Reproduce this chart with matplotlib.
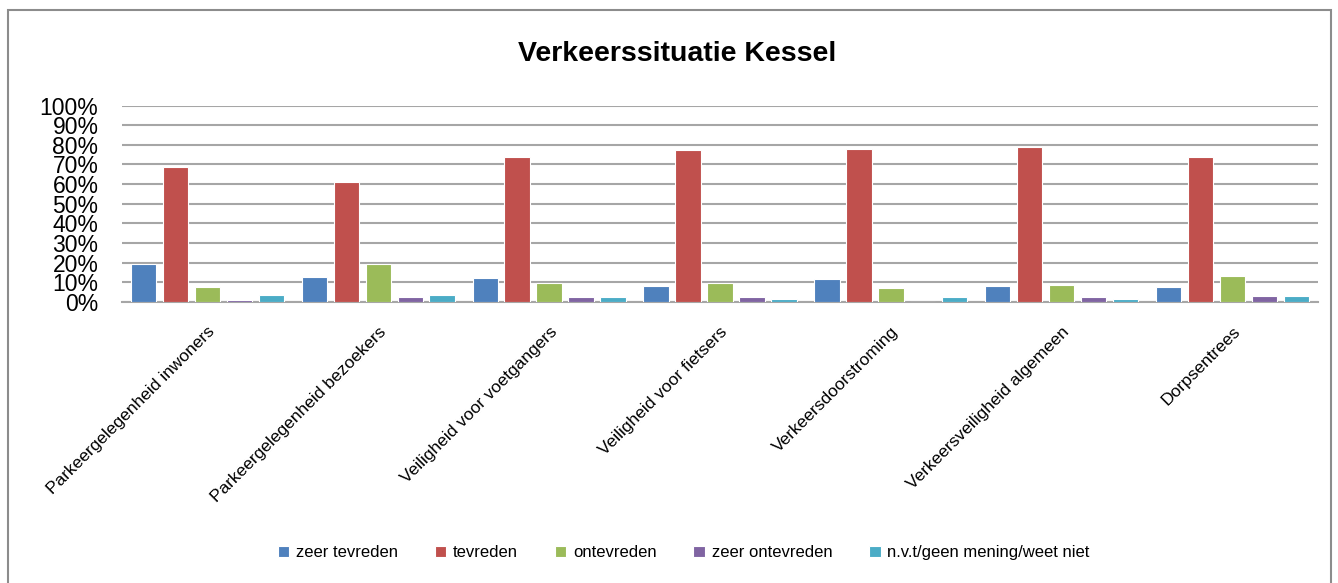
import matplotlib
matplotlib.use("Agg")
import matplotlib.pyplot as plt
import numpy as np
from matplotlib.patches import Rectangle

categories = ["Parkeergelegenheid inwoners", "Parkeergelegenheid bezoekers",
              "Veiligheid voor voetgangers", "Veiligheid voor fietsers",
              "Verkeersdoorstroming", "Verkeersveiligheid algemeen", "Dorpsentrees"]
series_names = ["zeer tevreden", "tevreden", "ontevreden", "zeer ontevreden",
                "n.v.t/geen mening/weet niet"]
zeer_tevreden = [19.0, 12.4, 11.9, 7.8, 11.4, 8.0, 7.5]
tevreden = [68.9, 60.9, 74.0, 77.4, 78.1, 78.7, 73.6]
ontevreden = [7.3, 19.0, 9.5, 9.7, 6.8, 8.7, 13.3]
zeer_ontevreden = [0.8, 2.2, 2.2, 2.2, 0.0, 2.2, 2.7]
nvt = [3.4, 3.4, 2.2, 1.5, 2.2, 1.5, 2.7]
series = [zeer_tevreden, tevreden, ontevreden, zeer_ontevreden, nvt]
colors = ["#4F81BD", "#C0504D", "#9BBB59", "#8064A2", "#4BACC6"]
yticks = [0, 10, 20, 30, 40, 50, 60, 70, 80, 90, 100]
ytick_labels = [f"{v}%" for v in yticks]

plt.rcParams['font.family'] = ['Liberation Sans', 'DejaVu Sans']

fig = plt.figure(figsize=(13.38, 5.83), dpi=100)
ax = fig.add_axes([0.0912, 0.4825, 0.8938, 0.3362])

x = np.arange(len(categories))
slot = 0.187
width = 0.149
for i, (name, vals, c) in enumerate(zip(series_names, series, colors)):
    ax.bar(x + (i - 2) * slot, vals, width, color=c, edgecolor="white",
           linewidth=0.8, label=name, zorder=3)

ax.set_xlim(-0.5, len(categories) - 0.5)
ax.set_ylim(0, 100)
ax.set_yticks(yticks)
ax.set_yticklabels(ytick_labels, fontsize=16.5)
ax.yaxis.grid(True, color="#A6A6A6", linewidth=1.5, zorder=0)
ax.set_axisbelow(True)
for s in ["top", "right", "left"]:
    ax.spines[s].set_visible(False)
ax.spines["bottom"].set_color("#A6A6A6")
ax.spines["bottom"].set_linewidth(1.5)
ax.tick_params(axis="y", length=0, pad=17)
ax.tick_params(axis="x", length=0, pad=16)
ax.set_xticks(x)
ax.set_xticklabels(categories, rotation=45, ha="right", va="top",
                   rotation_mode="anchor", fontsize=12.5)

fig.text(0.506, 0.908, "Verkeerssituatie Kessel", ha="center", va="center",
         fontsize=20.5, fontweight="bold")

fig.legend(loc="center", bbox_to_anchor=(0.511, 0.0515), ncol=5, frameon=False,
           fontsize=12, handlelength=0.7, handleheight=0.7, handletextpad=0.4,
           columnspacing=2.2)

fig.patches.append(Rectangle((8 / 1338, -0.01), 1323 / 1338, 1 - 10 / 583 + 0.01,
                             transform=fig.transFigure, fill=False,
                             edgecolor="#8C8C8C", linewidth=1.5))

fig.savefig("out.png", dpi=100)
